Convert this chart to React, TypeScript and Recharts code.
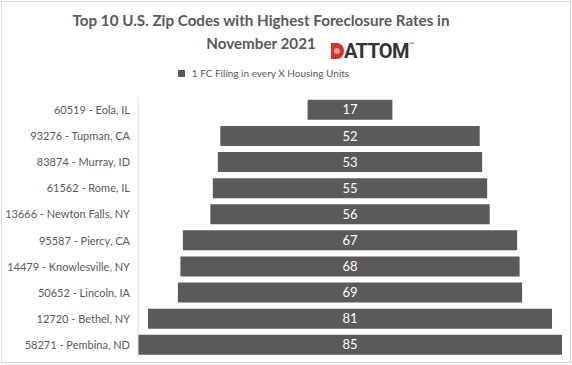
import React from "react";
import { BarChart, Bar, XAxis, YAxis, LabelList } from "recharts";

const zipCodes = [
  "60519 - Eola, IL",
  "93276 - Tupman, CA",
  "83874 - Murray, ID",
  "61562 - Rome, IL",
  "13666 - Newton Falls, NY",
  "95587 - Piercy, CA",
  "14479 - Knowlesville, NY",
  "50652 - Lincoln, IA",
  "12720 - Bethel, NY",
  "58271 - Pembina, ND",
];
const unitsPerFiling = [17, 52, 53, 55, 56, 67, 68, 69, 81, 85];
const seriesName = "1 FC Filing in every X Housing Units";

const maxVal = Math.max(...unitsPerFiling);

// funnel look: an invisible spacer pushes each bar to the middle
const data = zipCodes.map((zip, i) => ({
  zip,
  spacer: (maxVal - unitsPerFiling[i]) / 2,
  value: unitsPerFiling[i],
}));

const font = "Lato, 'Open Sans', sans-serif";
const gray = "#5a5a5a";

function ZipTick(props: any) {
  const { x, y, payload } = props;
  return (
    <text x={x} y={y} dy={4} textAnchor="end" fontFamily={font} fontSize={11} fill="#595959">
      {payload.value}
    </text>
  );
}

function LegendBox() {
  return (
    <div style={{ display: "flex", alignItems: "center", justifyContent: "center", fontFamily: font, fontSize: 10, color: "#595959" }}>
      <span style={{ width: 7, height: 7, background: gray, display: "inline-block", marginRight: 7 }} />
      {seriesName}
    </div>
  );
}

export default function App() {
  return (
    <div style={{ position: "absolute", left: 0, top: 0, width: 572, height: 365, background: "#fff" }}>
      <div style={{ position: "absolute", left: 1, top: 1, width: 570, height: 362, boxSizing: "border-box", border: "1px solid #d9d9d9" }} />
      <div
        style={{
          position: "absolute", left: 0, top: 9, width: 522, textAlign: "center",
          fontFamily: font, fontWeight: 700, fontSize: 15.2, lineHeight: "23px", color: "#595959",
        }}
      >
        Top 10 U.S. Zip Codes with Highest Foreclosure Rates in
        <br />
        November 2021
      </div>
      <div style={{ position: "absolute", left: 331, top: 41, display: "flex", alignItems: "center" }}>
        <svg width={13} height={18} viewBox="0 0 13 18">
          <path d="M0 1 H6 A7 8 0 0 1 6 17 H0 Z" fill="#d4322c" />
          <circle cx={6} cy={9} r={3} fill="#fff" opacity={0.5} />
        </svg>
        <span style={{ fontFamily: "Roboto, Arial, sans-serif", fontWeight: 700, fontSize: 20, color: "#333", letterSpacing: -0.7, lineHeight: "20px" }}>
          ATTOM
        </span>
        <span style={{ fontSize: 5, color: "#333", alignSelf: "flex-start" }}>™</span>
      </div>
      <div style={{ position: "absolute", left: 0, top: 67, width: 527 }}>
        <LegendBox />
      </div>
      <div style={{ position: "absolute", left: 0, top: 0 }}>
        <BarChart
          width={572}
          height={365}
          data={data}
          layout="vertical"
          margin={{ top: 97, right: 10, bottom: 7, left: 0 }}
          barCategoryGap="11%"
        >
          <XAxis type="number" domain={[0, maxVal]} hide />
          <YAxis
            type="category"
            dataKey="zip"
            width={138}
            tickLine={false}
            tickSize={0}
            tickMargin={8}
            axisLine={{ stroke: "#d9d9d9" }}
            tick={<ZipTick />}
            interval={0}
          />
          <Bar dataKey="spacer" stackId="f" fill="transparent" legendType="none" isAnimationActive={false} />
          <Bar dataKey="value" stackId="f" name={seriesName} fill={gray} isAnimationActive={false}>
            <LabelList dataKey="value" position="center" fill="#fff" fontFamily={font} fontSize={13} />
          </Bar>
        </BarChart>
      </div>
    </div>
  );
}
